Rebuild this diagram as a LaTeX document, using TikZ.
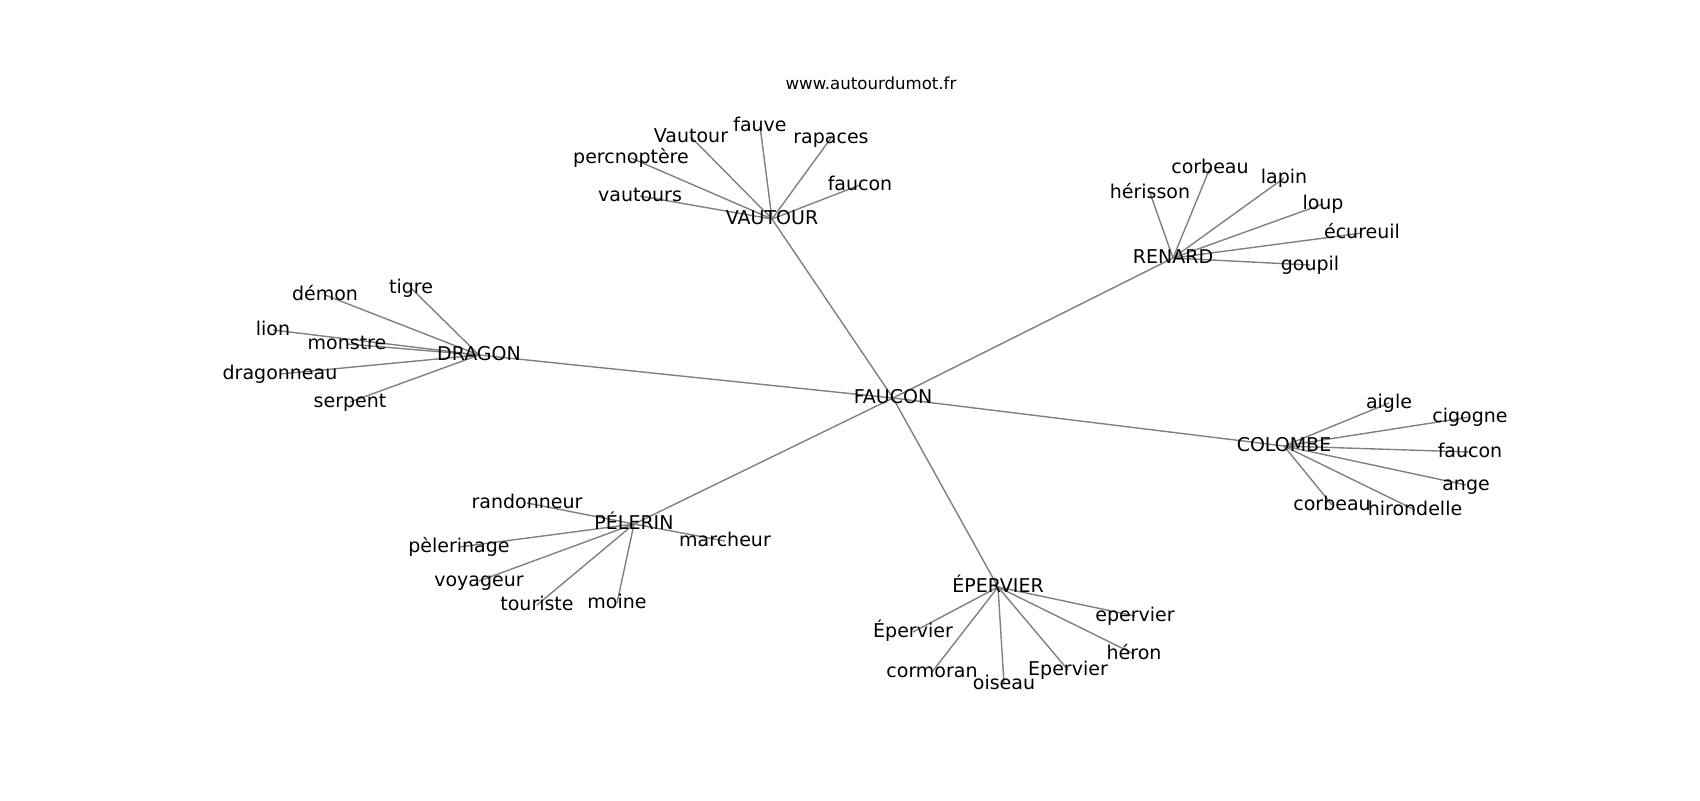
\documentclass[tikz,border=0pt]{standalone}
\usepackage{fontspec}
\setmainfont{DejaVu Sans}
\usetikzlibrary{backgrounds}
\tikzset{
    word/.style={inner sep=0pt, text height=0.76em, text depth=0.24em, font=\fontsize{9.5}{11}\selectfont},
    link/.style={draw=black!50, line width=0.7pt},
}

\begin{document}
\begin{tikzpicture}[x=0.5pt, y=-0.5pt]
    \useasboundingbox (0,0) rectangle (1700,800);
    \node[word, font=\fontsize{8.3}{10}\selectfont] (site) at (871,84) {www.autourdumot.fr};

    % hubs
    \node[word] (faucon) at (893,398) {FAUCON};
    \node[word] (vautour) at (772,219) {VAUTOUR};
    \node[word] (renard) at (1173,258) {RENARD};
    \node[word] (dragon) at (479,355) {DRAGON};
    \node[word] (pelerin) at (634,524) {PÉLERIN};
    \node[word] (colombe) at (1284,446) {COLOMBE};
    \node[word] (epervier) at (998,587) {ÉPERVIER};

    % VAUTOUR
    \node[word] (vautours) at (640,196) {vautours};
    \node[word] (percnoptere) at (631,158) {percnoptère};
    \node[word] (vautour-b) at (691,137) {Vautour};
    \node[word] (fauve) at (760,126) {fauve};
    \node[word] (rapaces) at (831,138) {rapaces};
    \node[word] (faucon-v) at (860,185) {faucon};

    % RENARD
    \node[word] (herisson) at (1150,193) {hérisson};
    \node[word] (corbeau-r) at (1210,168) {corbeau};
    \node[word] (lapin) at (1284,178) {lapin};
    \node[word] (loup) at (1323,204) {loup};
    \node[word] (ecureuil) at (1362,233) {écureuil};
    \node[word] (goupil) at (1310,265) {goupil};

    % DRAGON
    \node[word] (tigre) at (411,288) {tigre};
    \node[word] (demon) at (325,295) {démon};
    \node[word] (lion) at (273,330) {lion};
    \node[word] (monstre) at (347,344) {monstre};
    \node[word] (dragonneau) at (280,374) {dragonneau};
    \node[word] (serpent) at (350,402) {serpent};

    % PÉLERIN
    \node[word] (randonneur) at (527,503) {randonneur};
    \node[word] (marcheur) at (725,541) {marcheur};
    \node[word] (pelerinage) at (459,547) {pèlerinage};
    \node[word] (voyageur) at (479,581) {voyageur};
    \node[word] (touriste) at (537,605) {touriste};
    \node[word] (moine) at (617,603) {moine};

    % COLOMBE
    \node[word] (aigle) at (1389,403) {aigle};
    \node[word] (cigogne) at (1470,417) {cigogne};
    \node[word] (faucon-c) at (1470,452) {faucon};
    \node[word] (ange) at (1466,485) {ange};
    \node[word] (corbeau-c) at (1332,505) {corbeau};
    \node[word] (hirondelle) at (1415,510) {hirondelle};

    % ÉPERVIER
    \node[word] (epervier-a) at (913,632) {Épervier};
    \node[word] (epervier-b) at (1135,616) {epervier};
    \node[word] (heron) at (1134,654) {héron};
    \node[word] (epervier-c) at (1068,670) {Epervier};
    \node[word] (oiseau) at (1004,684) {oiseau};
    \node[word] (cormoran) at (932,672) {cormoran};

    \begin{scope}[on background layer]
        \foreach \hub in {vautour,renard,dragon,pelerin,colombe,epervier}
            \draw[link] (faucon.center) -- (\hub.center);
        \foreach \leaf in {vautours,percnoptere,vautour-b,fauve,rapaces,faucon-v}
            \draw[link] (vautour.center) -- (\leaf.center);
        \foreach \leaf in {herisson,corbeau-r,lapin,loup,ecureuil,goupil}
            \draw[link] (renard.center) -- (\leaf.center);
        \foreach \leaf in {tigre,demon,lion,monstre,dragonneau,serpent}
            \draw[link] (dragon.center) -- (\leaf.center);
        \foreach \leaf in {randonneur,marcheur,pelerinage,voyageur,touriste,moine}
            \draw[link] (pelerin.center) -- (\leaf.center);
        \foreach \leaf in {aigle,cigogne,faucon-c,ange,corbeau-c,hirondelle}
            \draw[link] (colombe.center) -- (\leaf.center);
        \foreach \leaf in {epervier-a,epervier-b,heron,epervier-c,oiseau,cormoran}
            \draw[link] (epervier.center) -- (\leaf.center);
    \end{scope}
\end{tikzpicture}
\end{document}
